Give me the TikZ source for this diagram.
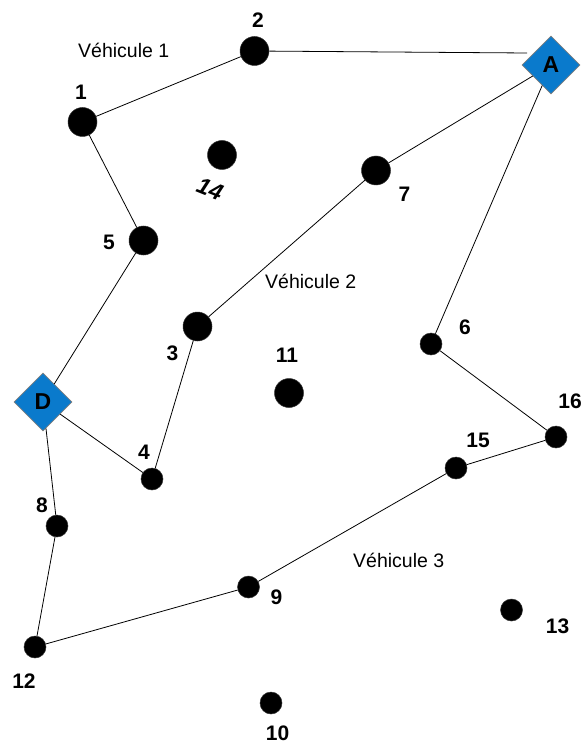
\documentclass[tikz,border=0pt]{standalone}
\usepackage{fontspec}
\setmainfont{Liberation Sans}
\usetikzlibrary{shapes.geometric}
\definecolor{depotblue}{RGB}{10,122,204}
\begin{document}
\begin{tikzpicture}[x=1pt,y=-1pt,
  bigpt/.style={circle,fill=black,draw=black!80,line width=0.5pt,minimum size=29pt,inner sep=0pt},
  smallpt/.style={circle,fill=black,draw=black!80,line width=0.5pt,minimum size=22pt,inner sep=0pt},
  depot/.style={diamond,aspect=1,fill=depotblue,draw=gray,line width=0.6pt,minimum size=58pt,inner sep=0pt,
     font=\fontsize{23}{23}\selectfont\bfseries},
  num/.style={anchor=base,inner sep=0pt,font=\fontsize{21}{21}\selectfont\bfseries},
  veh/.style={anchor=base west,inner sep=0pt,font=\fontsize{19.5}{19.5}\selectfont},
  route/.style={draw=black,line width=0.8pt}]
\useasboundingbox (0,0) rectangle (582,743);
% depots
\node[depot] (A) at (551,65) {A};
\node[depot] (D) at (43,402) {D};
\coordinate (a2) at (527,53);
% customers
\node[bigpt] (n1) at (82.5,122) {};
\node[bigpt] (n2) at (254.5,51) {};
\node[bigpt] (n14) at (222,155) {};
\node[bigpt] (n7) at (376,170.5) {};
\node[bigpt] (n5) at (143.5,240.5) {};
\node[bigpt] (n3) at (197.5,326.5) {};
\node[bigpt] (n11) at (289,393) {};
\node[smallpt] (n6) at (431,344) {};
\node[smallpt] (n16) at (556,437) {};
\node[smallpt] (n15) at (456,468) {};
\node[smallpt] (n4) at (152,479) {};
\node[smallpt] (n8) at (57,526) {};
\node[smallpt] (n9) at (248.5,587) {};
\node[smallpt] (n12) at (35,647) {};
\node[smallpt] (n13) at (511.5,610) {};
\node[smallpt] (n10) at (271,703) {};
% labels
\node[num] (l2) at (258,28) {2};
\node[num] (l1) at (81,100) {1};
\node[anchor=center,inner sep=0pt,rotate=-22,font=\fontsize{23}{23}\selectfont\bfseries\itshape] (l14) at (210,189) {14};
\node[num] (l7) at (404.5,202) {7};
\node[num] (l5) at (109,249) {5};
\node[num] (l3) at (172.5,360) {3};
\node[num] (l11) at (287,362) {11};
\node[num] (l6) at (465,334) {6};
\node[num] (l16) at (570,408) {16};
\node[num] (l15) at (478,447) {15};
\node[num] (l4) at (144,459) {4};
\node[num] (l8) at (42,512) {8};
\node[num] (l9) at (276.5,604) {9};
\node[num] (l12) at (24,688) {12};
\node[num] (l13) at (557.5,633) {13};
\node[num] (l10) at (277.5,740) {10};
\node[veh] (v1) at (78,58) {Véhicule 1};
\node[veh] (v2) at (265,288) {Véhicule 2};
\node[veh] (v3) at (353,567) {Véhicule 3};
% routes
\path[route] (D) -- (n5) -- (n1) -- (n2) -- (a2);
\path[route] (D) -- (n4) -- (n3) -- (n7) -- (A);
\path[route] (A) -- (n6) -- (n16) -- (n15) -- (n9) -- (n12) -- (n8) -- (D);
\end{tikzpicture}
\end{document}
